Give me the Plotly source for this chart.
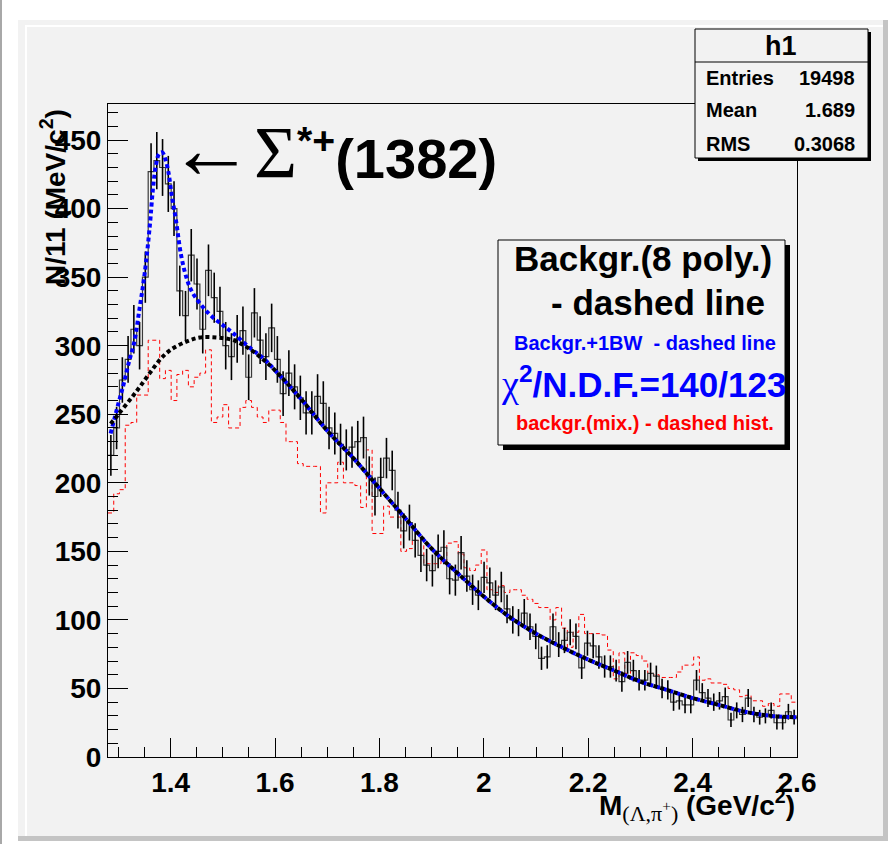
import numpy as np
import plotly.graph_objects as go

# ---- histogram binning: 120 bins of 11 MeV ----
X_LO, X_HI, N_BINS = 1.28, 2.60, 120

# data counts per bin (Lambda pi+ invariant mass)
counts = [
    220, 240, 275, 290, 312, 300, 350, 427, 435, 430,
    418, 400, 340, 322, 366, 345, 312, 355, 335, 325,
    300, 292, 305, 311, 277, 324, 304, 292, 313, 290,
    265, 280, 270, 262, 251, 251, 263, 258, 240, 236,
    228, 224, 226, 230, 233, 205, 190, 204, 218, 209,
    180, 165, 171, 158, 147, 140, 136, 150, 153, 130,
    129, 149, 132, 122, 118, 131, 127, 118, 124, 108,
    100, 98, 105, 95, 88, 72, 73, 95, 82, 85,
    91, 88, 65, 83, 81, 73, 66, 66, 63, 55,
    69, 63, 56, 56, 61, 59, 50, 49, 40, 41,
    38, 38, 56, 47, 43, 40, 41, 44, 27, 34,
    31, 43, 31, 29, 30, 34, 25, 25, 33, 29,
]

# mixed-event background per bin
mix_bkg = [
    178, 192, 195, 242, 244, 264, 264, 304, 304, 276,
    282, 260, 279, 282, 270, 277, 280, 297, 244, 248,
    257, 240, 240, 255, 260, 255, 248, 244, 253, 253,
    244, 230, 230, 214, 212, 212, 212, 178, 200, 200,
    215, 200, 200, 198, 182, 224, 163, 163, 183, 175,
    175, 150, 152, 158, 158, 141, 141, 141, 143, 156,
    157, 148, 138, 136, 140, 151, 122, 120, 125, 120,
    122, 122, 118, 115, 112, 109, 109, 100, 109, 94,
    80, 91, 104, 90, 90, 90, 89, 78, 57, 76,
    61, 76, 74, 70, 61, 60, 58, 58, 58, 62,
    67, 67, 73, 56, 57, 54, 54, 53, 50, 49,
    44, 45, 41, 41, 37, 39, 37, 46, 46, 40,
]

# fitted curve: polynomial background + one Breit-Wigner
fit_x = [1.285, 1.30, 1.31, 1.32, 1.33, 1.34, 1.35, 1.36, 1.366, 1.372,
         1.378, 1.384, 1.390, 1.396, 1.402, 1.41, 1.42, 1.43, 1.44, 1.46,
         1.48, 1.50, 1.52, 1.55, 1.58, 1.60, 1.65, 1.70, 1.75, 1.80,
         1.85, 1.90, 1.95, 2.00, 2.05, 2.10, 2.15, 2.20, 2.25, 2.30,
         2.35, 2.40, 2.45, 2.50, 2.55, 2.60]
fit_total = [236, 258, 272, 288, 302, 326, 352, 387, 414, 432,
             440, 441, 436, 426, 410, 392, 366, 350, 340, 329,
             321, 315, 309, 299, 290, 282, 261, 238, 218, 196,
             174, 152, 134, 117, 102, 90, 80, 71, 63, 55,
             49, 43, 38, 33, 30, 29]

# fitted background (8th order polynomial)
bkg_x = [1.285, 1.30, 1.325, 1.341, 1.36, 1.38, 1.40, 1.43, 1.456, 1.488,
         1.52, 1.55, 1.58, 1.60, 1.65, 1.70, 1.75, 1.80, 1.85, 1.90,
         1.95, 2.00, 2.05, 2.10, 2.15, 2.20, 2.25, 2.30, 2.35, 2.40,
         2.45, 2.50, 2.55, 2.60]
bkg_poly = [243, 250, 262, 270, 280, 290, 297, 303, 306, 306,
            304, 298, 289, 282, 261, 238, 218, 196, 174, 152,
            134, 117, 102, 90, 80, 71, 63, 55, 49, 43,
            38, 33, 30, 29]

x_ticks = [1.4, 1.6, 1.8, 2.0, 2.2, 2.4, 2.6]
x_tick_text = ["1.4", "1.6", "1.8", "2", "2.2", "2.4", "2.6"]
y_ticks = [0, 50, 100, 150, 200, 250, 300, 350, 400, 450]
Y_MAX = 476.3

# ---- page geometry (pixels) ----
W, H = 895, 844
L, R, T, B = 108, 797, 104, 757   # frame edges


def px(xp):
    return (xp - L) / (R - L)


def py(yp):
    return (B - yp) / (B - T)


edges = np.linspace(X_LO, X_HI, N_BINS + 1)
centers = 0.5 * (edges[:-1] + edges[1:])
counts_a = np.array(counts, dtype=float)
errs = np.sqrt(counts_a)

SANS = "Liberation Sans"
SERIF_SPAN = "<span style='font-family:\"Liberation Serif\";font-weight:normal;font-size:{}px'>"
GRAY = "#f2f2f2"

fig = go.Figure()

# mixed-event background: red dashed step histogram
fig.add_trace(go.Scatter(
    x=edges, y=list(mix_bkg) + [mix_bkg[-1]], mode="lines",
    line=dict(shape="hv", color="#ff0000", width=1, dash="4px,3px"),
    hoverinfo="skip", showlegend=False))

# data histogram outline
fig.add_trace(go.Scatter(
    x=edges, y=list(counts) + [counts[-1]], mode="lines",
    line=dict(shape="hv", color="#3a3a3a", width=1.2),
    hoverinfo="skip", showlegend=False))

# data error bars
fig.add_trace(go.Scatter(
    x=centers, y=counts_a, mode="markers",
    marker=dict(size=1, color="black"),
    error_y=dict(type="data", array=errs, color="black", thickness=1.6, width=0),
    showlegend=False))

# fit: background + BW (blue dotted)
fig.add_trace(go.Scatter(
    x=fit_x, y=fit_total, mode="lines", line_shape="spline",
    line=dict(color="#0000ff", width=4, dash="4px,3px"),
    showlegend=False))

# background polynomial (black dotted)
fig.add_trace(go.Scatter(
    x=bkg_x, y=bkg_poly, mode="lines", line_shape="spline",
    line=dict(color="black", width=4, dash="4px,3px"),
    showlegend=False))

shapes = []
# canvas panel with bevelled edges
shapes.append(dict(type="rect", xref="paper", yref="paper", layer="below",
                   x0=px(18), x1=px(888), y0=py(841), y1=py(20),
                   fillcolor=GRAY, line=dict(width=0)))
shapes.append(dict(type="line", xref="paper", yref="paper", layer="below",
                   x0=px(25), x1=px(883), y0=py(26), y1=py(26),
                   line=dict(color="white", width=2)))
shapes.append(dict(type="line", xref="paper", yref="paper", layer="below",
                   x0=px(26), x1=px(26), y0=py(26), y1=py(836),
                   line=dict(color="white", width=2)))
shapes.append(dict(type="rect", xref="paper", yref="paper", layer="below",
                   x0=px(883), x1=px(888), y0=py(841), y1=py(20),
                   fillcolor="#c4c4c4", line=dict(width=0)))
shapes.append(dict(type="rect", xref="paper", yref="paper", layer="below",
                   x0=px(18), x1=px(888), y0=py(841), y1=py(836),
                   fillcolor="#c4c4c4", line=dict(width=0)))
shapes.append(dict(type="rect", xref="paper", yref="paper", layer="below",
                   x0=px(0), x1=px(2), y0=py(844), y1=py(0),
                   fillcolor="#a8a8a8", line=dict(width=0)))

# stats box with shadow
shapes.append(dict(type="rect", xref="paper", yref="paper", layer="above",
                   x0=px(698), x1=px(871), y0=py(161), y1=py(32),
                   fillcolor="black", line=dict(width=0)))
shapes.append(dict(type="rect", xref="paper", yref="paper", layer="above",
                   x0=px(695), x1=px(868), y0=py(158), y1=py(29),
                   fillcolor=GRAY, line=dict(color="black", width=1)))
shapes.append(dict(type="line", xref="paper", yref="paper", layer="above",
                   x0=px(695), x1=px(868), y0=py(62), y1=py(62),
                   line=dict(color="black", width=1)))

# fit description box with shadow
shapes.append(dict(type="rect", xref="paper", yref="paper", layer="above",
                   x0=px(503), x1=px(790), y0=py(450), y1=py(245),
                   fillcolor="black", line=dict(width=0)))
shapes.append(dict(type="rect", xref="paper", yref="paper", layer="above",
                   x0=px(498), x1=px(785), y0=py(445), y1=py(240),
                   fillcolor=GRAY, line=dict(color="black", width=1)))

ann = []


def text(xp, yp, s, size, color="black", xanchor="left", bold=True,
         angle=0, yanchor="middle"):
    ann.append(dict(xref="paper", yref="paper", x=px(xp), y=py(yp), text=s,
                    showarrow=False, xanchor=xanchor, yanchor=yanchor,
                    textangle=angle,
                    font=dict(family=SANS, size=size, color=color,
                              weight="bold" if bold else "normal")))


# stats box text
text(781, 46, "h1", 27, xanchor="center")
text(704, 78, "Entries", 20)
text(857, 78, "19498", 20, xanchor="right")
text(704, 110, "Mean", 20)
text(857, 110, "1.689", 20, xanchor="right")
text(704, 144, "RMS", 20)
text(857, 144, "0.3068", 20, xanchor="right")

# fit description text
text(643, 258, "Backgr.(8 poly.)", 35, xanchor="center")
text(549, 302, "- dashed line", 35)
text(512, 343, "Backgr.+1BW\u00a0 - dashed line", 20, color="#0000ff")
text(499, 382, SERIF_SPAN.format(38) + "\u03c7</span><sup>2</sup>/N.D.F.=140/123",
     35, color="#0000ff")
text(514, 423, "backgr.(mix.) - dashed hist.", 20, color="#ff0000")

# resonance label
text(166, 149, SERIF_SPAN.format(86) + "\u2190</span>"
     + SERIF_SPAN.format(74) + "\u03a3</span><sup>*+</sup>(1382)", 56)

# axis titles
text(797, 805, "M<sub>" + SERIF_SPAN.format(22) + "(\u039b,\u03c0<sup>+</sup>)</span></sub>"
     " (GeV/c<sup>2</sup>)", 28, xanchor="right")
text(53, 107, "N/11 (MeV/c<sup>2</sup>)", 28, xanchor="center", angle=-90,
     yanchor="top")

fig.update_layout(
    width=W, height=H,
    margin=dict(l=L, r=W - R, t=T, b=H - B, pad=0),
    paper_bgcolor="white", plot_bgcolor=GRAY,
    shapes=shapes, annotations=ann, showlegend=False,
    xaxis=dict(range=[X_LO, X_HI], tickmode="array", tickvals=x_ticks,
               ticktext=x_tick_text,
               ticks="inside", ticklen=19, tickwidth=1, tickcolor="black",
               minor=dict(tickmode="linear", tick0=1.3, dtick=0.05,
                          ticks="inside", ticklen=10, tickcolor="black"),
               showline=True, linecolor="black", linewidth=1, mirror=True,
               showgrid=False, zeroline=False,
               tickfont=dict(family=SANS, size=28, color="black", weight="bold")),
    yaxis=dict(range=[0, Y_MAX], tickmode="array", tickvals=y_ticks,
               ticks="inside", ticklen=20, tickwidth=1, tickcolor="black",
               minor=dict(tickmode="linear", tick0=0, dtick=10,
                          ticks="inside", ticklen=10, tickcolor="black"),
               showline=True, linecolor="black", linewidth=1, mirror=True,
               showgrid=False, zeroline=False,
               tickfont=dict(family=SANS, size=28, color="black", weight="bold")),
)

fig.write_html("out.html")
